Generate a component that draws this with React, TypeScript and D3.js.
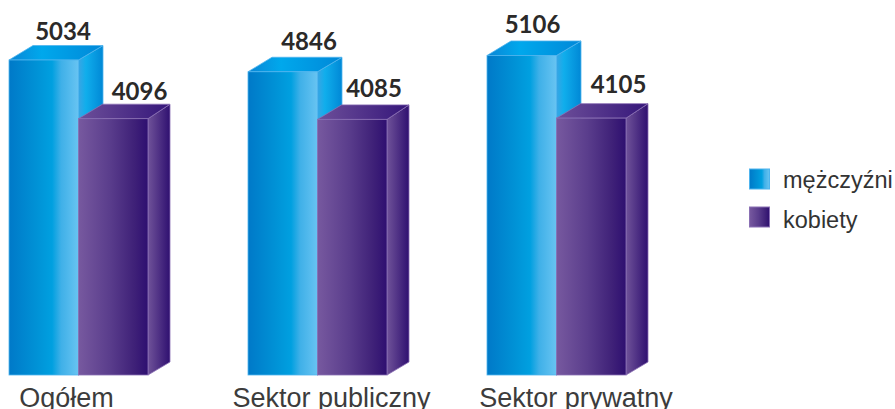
import React from "react";
import * as d3 from "d3";

const categories = ["Ogółem", "Sektor publiczny", "Sektor prywatny"];
const men = [5034, 4846, 5106];
const women = [4096, 4085, 4105];
const menLabels = ["5034", "4846", "5106"];
const womenLabels = ["4096", "4085", "4105"];
const seriesNames = ["mężczyźni", "kobiety"];

// label placement
const categoryLabelX = [66.5, 331.5, 576];
const menLabelX = [63, 309, 532.5];
const menLabelY = [40, 50, 33];
const womenLabelX = [139.5, 374, 618.5];
const womenLabelY = [100, 97, 93];

const W = 895, H = 409;
const DX_LEFT = 24, DY = -14.5;
const y = d3.scaleLinear().domain([0, 5034]).range([375, 60]);
const x0 = d3.scaleBand<string>().domain(categories).range([9, 9 + 239 * 2 + 139]).paddingInner(100 / 239).paddingOuter(0);
const x1 = d3.scaleBand<string>().domain(seriesNames).range([0, x0.bandwidth()]);

function Defs() {
  const blue: [string, string][] = [["0", "#0079c8"], ["0.4", "#0092d6"], ["0.62", "#00a0e0"], ["0.75", "#3fb0e8"], ["1", "#68c4f2"]];
  const purple: [string, string][] = [["0", "#77599f"], ["0.45", "#5a3d8c"], ["0.8", "#3f2178"], ["1", "#2e0f70"]];
  const grad = (id: string, stops: [string, string][]) => (
    <linearGradient id={id} x1={0} x2={1} y1={0} y2={0}>
      {stops.map(([o, c]) => <stop key={o} offset={o} stopColor={c} />)}
    </linearGradient>
  );
  return (
    <defs>
      {grad("b", blue)}
      {grad("p", purple)}
      <linearGradient id="bs" x1={0} x2={1} y1={0} y2={0}>
        <stop offset="0" stopColor="#3aa5e4" />
        <stop offset="0.3" stopColor="#10aeec" />
        <stop offset="1" stopColor="#0088d6" />
      </linearGradient>
      <linearGradient id="bt" x1={0} x2={1} y1={0} y2={0}>
        <stop offset="0" stopColor="#0a86d6" />
        <stop offset="0.35" stopColor="#00a8ec" />
        <stop offset="1" stopColor="#0088d8" />
      </linearGradient>
      <linearGradient id="ps" x1={0} x2={1} y1={0} y2={0}>
        <stop offset="0" stopColor="#6f5299" />
        <stop offset="1" stopColor="#2f1070" />
      </linearGradient>
      <linearGradient id="pt" x1={0} x2={1} y1={0} y2={0}>
        <stop offset="0" stopColor="#6d4f99" />
        <stop offset="1" stopColor="#35167a" />
      </linearGradient>
    </defs>
  );
}

function Bar({ x, w, v, kind }: { x: number; w: number; v: number; kind: "b" | "p" }) {
  const top = y(v), bot = y(0);
  const dxRight = kind === "b" ? 24.5 : 22;
  const stroke = kind === "b" ? "#4fb4ee" : "#8a70b4";
  const path = d3.path();
  path.moveTo(x, top); path.lineTo(x + DX_LEFT, top + DY); path.lineTo(x + w + dxRight, top + DY); path.lineTo(x + w, top); path.closePath();
  const side = d3.path();
  side.moveTo(x + w, top); side.lineTo(x + w + dxRight, top + DY); side.lineTo(x + w + dxRight, bot + DY + 1.5); side.lineTo(x + w, bot); side.closePath();
  return (
    <g stroke={stroke} strokeWidth={0.8}>
      <path d={side.toString()} fill={`url(#${kind}s)`} />
      <path d={path.toString()} fill={`url(#${kind}t)`} />
      <rect x={x} y={top} width={w} height={bot - top} fill={`url(#${kind})`} />
    </g>
  );
}

export default function App() {
  return (
    <svg width={W} height={H} viewBox={`0 0 ${W} ${H}`} style={{ position: "fixed", left: 0, top: 0, background: "#fff" }}>
      <Defs />
      {categories.map((c, i) => {
        const gx = x0(c)!;
        const mx = gx + x1(seriesNames[0])!;
        const wx = gx + x1(seriesNames[1])!;
        const bw = x1.bandwidth();
        return (
          <g key={c}>
            <Bar x={mx} w={bw} v={men[i]} kind="b" />
            <Bar x={wx} w={bw} v={women[i]} kind="p" />
            <text x={menLabelX[i]} y={menLabelY[i]} textAnchor="middle" fontFamily="Lato" fontWeight={700} fontSize={24} fill="#2b2a29">{menLabels[i]}</text>
            <text x={womenLabelX[i]} y={womenLabelY[i]} textAnchor="middle" fontFamily="Lato" fontWeight={700} fontSize={24} fill="#2b2a29">{womenLabels[i]}</text>
            <text x={categoryLabelX[i]} y={407} textAnchor="middle" fontFamily="Liberation Sans" fontSize={27} fill="#3c3c3c">{c}</text>
          </g>
        );
      })}
      <g>
        <rect x={749.5} y={169} width={20} height={20} fill="url(#b)" stroke="#4fb4ee" />
        <rect x={749.5} y={207} width={20} height={20} fill="url(#p)" stroke="#8a70b4" />
        <text x={783} y={188} fontFamily="Liberation Sans" fontSize={23.5} fill="#333">{seriesNames[0]}</text>
        <text x={783} y={228} fontFamily="Liberation Sans" fontSize={23.5} fill="#333">{seriesNames[1]}</text>
      </g>
    </svg>
  );
}
